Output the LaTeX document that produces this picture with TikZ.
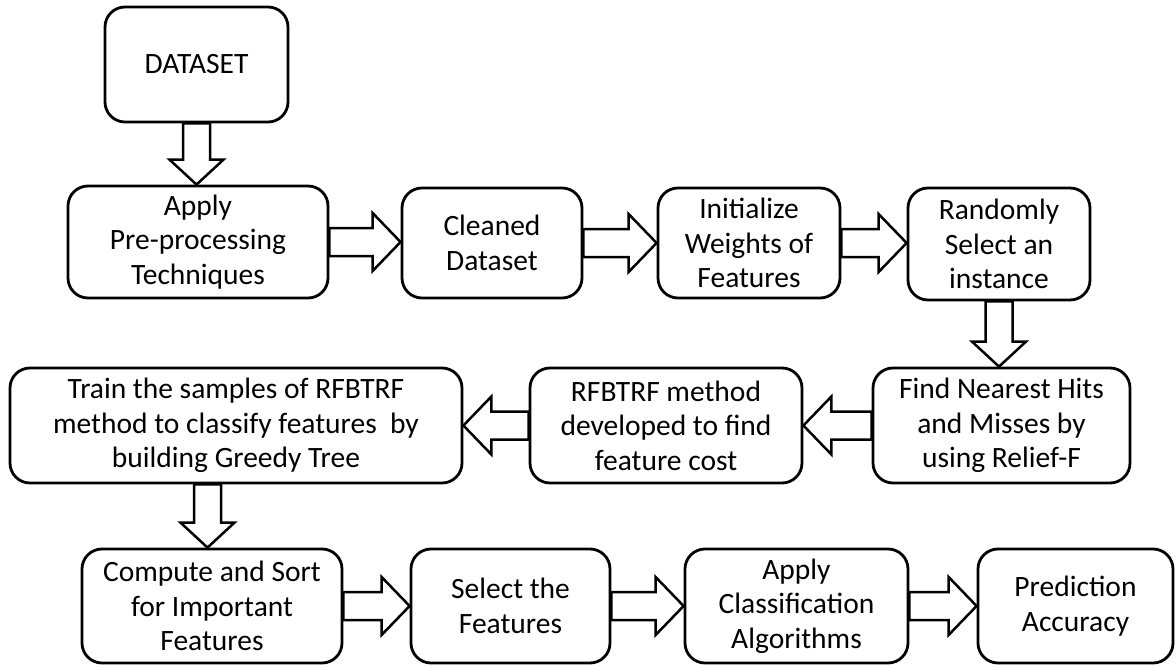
\documentclass[tikz,border=0pt]{standalone}
\usepackage{fontspec}
\setmainfont{Carlito}
\usetikzlibrary{calc}
\tikzset{
  box/.style={draw, line width=2.8pt, rounded corners=20pt, align=center, inner sep=0pt,
    font=\fontsize{29.5}{34.5}\selectfont},
  fatarrow/.style={draw, fill=white, line width=2.5pt, line join=miter}
}
\newcommand\rarrow[2]{\draw[fatarrow] let \p1=(#1.east), \p2=(#2.west) in
  (\x1,\y1+14pt) -- (\x2-28pt,\y1+14pt) -- (\x2-28pt,\y1+29pt) -- (\x2,\y1) --
  (\x2-28pt,\y1-29pt) -- (\x2-28pt,\y1-14pt) -- (\x1,\y1-14pt) -- cycle;}
\newcommand\larrow[2]{\draw[fatarrow] let \p1=(#1.west), \p2=(#2.east) in
  (\x1,\y1+14pt) -- (\x2+28pt,\y1+14pt) -- (\x2+28pt,\y1+29pt) -- (\x2,\y1) --
  (\x2+28pt,\y1-29pt) -- (\x2+28pt,\y1-14pt) -- (\x1,\y1-14pt) -- cycle;}
\newcommand\darrow[3]{\draw[fatarrow] let \p1=(#2.south), \p2=(#3.north), \p3=(#1) in
  (\x3-13.5pt,\y1) -- (\x3-13.5pt,\y2+25pt) -- (\x3-27pt,\y2+25pt) -- (\x3,\y2) --
  (\x3+27pt,\y2+25pt) -- (\x3+13.5pt,\y2+25pt) -- (\x3+13.5pt,\y1) -- cycle;}
\begin{document}
\begin{tikzpicture}[x=1pt,y=1pt]
\useasboundingbox (0,0) rectangle (1176,-666);
% row 1
\node[box, minimum width=183pt, minimum height=115pt] (ds) at (196.5,-64.5) {DATASET};
% row 2
\node[box, minimum width=260pt, minimum height=112pt] (pre) at (198,-242) {Apply\\Pre-processing\\Techniques};
\node[box, minimum width=180pt, minimum height=110pt] (clean) at (492,-243) {Cleaned\\Dataset};
\node[box, minimum width=182pt, minimum height=110pt] (init) at (749,-243) {Initialize\\Weights of\\Features};
\node[box, minimum width=182pt, minimum height=112pt] (rand) at (999,-244) {Randomly\\Select an\\instance};
% row 3
\node[box, minimum width=452pt, minimum height=115pt] (train) at (236,-425.5) {Train the samples of RFBTRF\\method to classify features\ \ by\\building Greedy Tree};
\node[box, minimum width=272pt, minimum height=115pt] (rfb) at (666,-425.5) {RFBTRF method\\developed to find\\feature cost};
\node[box, minimum width=257pt, minimum height=115pt] (find) at (1001.5,-425.5) {Find Nearest Hits\\and Misses by\\using Relief-F};
% row 4
\node[box, minimum width=260pt, minimum height=114pt] (comp) at (212,-606) {Compute and Sort\\for Important\\Features};
\node[box, minimum width=199pt, minimum height=114pt] (sel) at (510.5,-606) {Select the\\Features};
\node[box, minimum width=223pt, minimum height=114pt] (cls) at (796.5,-606) {Apply\\Classification\\Algorithms};
\node[box, minimum width=195pt, minimum height=114pt] (pred) at (1075.5,-606) {Prediction\\Accuracy};
% connectors
\darrow{ds}{ds}{pre}
\rarrow{pre}{clean}
\rarrow{clean}{init}
\rarrow{init}{rand}
\darrow{rand}{rand}{find}
\larrow{find}{rfb}
\larrow{rfb}{train}
\coordinate (tc) at ($(comp.north)+(-4.5,0)$);
\darrow{tc}{train}{comp}
\rarrow{comp}{sel}
\rarrow{sel}{cls}
\rarrow{cls}{pred}
\end{tikzpicture}
\end{document}
